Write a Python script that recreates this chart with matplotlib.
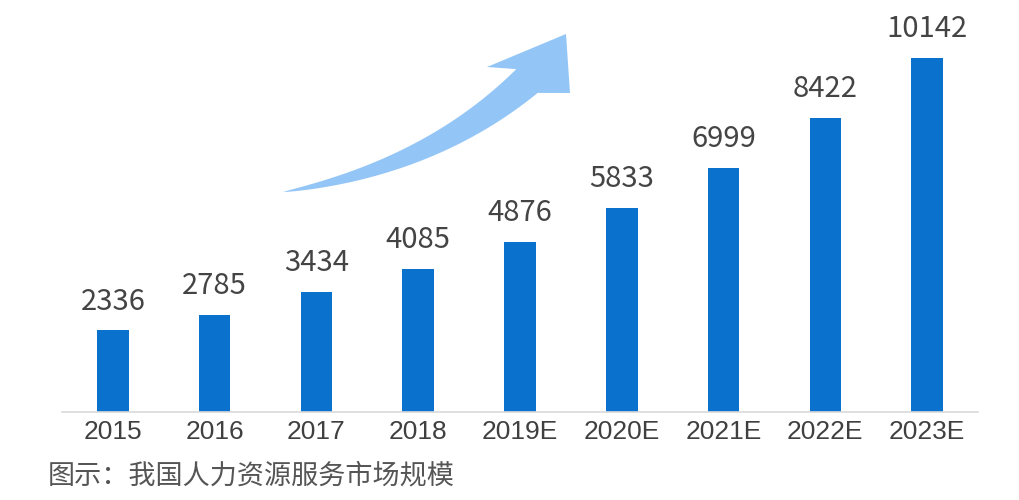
import numpy as np
import matplotlib.pyplot as plt
from matplotlib.patches import Polygon

plt.rcParams['font.family'] = ['Noto Sans CJK SC', 'DejaVu Sans']

# dati
years = ["2015", "2016", "2017", "2018", "2019E", "2020E", "2021E", "2022E", "2023E"]
market_size = [2336, 2785, 3434, 4085, 4876, 5833, 6999, 8422, 10142]
caption = "图示：我国人力资源服务市场规模"

W, H = 1020, 500
fig = plt.figure(figsize=(W / 100, H / 100), dpi=100)
ax = fig.add_axes([62 / W, (H - 412) / H, (978 - 62) / W, 412 / H])

x = np.arange(len(years))
bars = ax.bar(x, market_size, width=0.31, color="#0A72CC")
ax.set_xlim(-0.5, len(years) - 0.5)
ax.set_ylim(0, 11800)

for bar, val in zip(bars, market_size):
    ax.annotate(str(val), (bar.get_x() + bar.get_width() / 2, bar.get_height()),
                xytext=(0, 10), textcoords="offset points", ha="center", va="bottom",
                fontsize=21, color="#444444")

ax.set_xticks(x)
ax.set_xticklabels(years, fontsize=19, color="#404040", family=["Liberation Sans", "DejaVu Sans"])
ax.tick_params(axis="x", length=0, pad=6)
ax.set_yticks([])
for side in ["top", "right", "left"]:
    ax.spines[side].set_visible(False)
ax.spines["bottom"].set_color("#D9D9D9")
ax.spines["bottom"].set_linewidth(1.2)

fig.text(48 / W, 1 - 476 / H, caption, fontsize=19.5, color="#555555", va="center", ha="left")


# freccia decorativa (coordinate in pixel, y dall'alto)
def px(pts):
    return [(a / W, 1 - b / H) for a, b in pts]


p0 = np.array([283.0, 192.0])
p1 = np.array([430.0, 168.0])
p2 = np.array([527.0, 81.0])
t = np.linspace(0, 1, 60)
curve = ((1 - t) ** 2)[:, None] * p0 + (2 * (1 - t) * t)[:, None] * p1 + (t ** 2)[:, None] * p2
deriv = (2 * (1 - t))[:, None] * (p1 - p0) + (2 * t)[:, None] * (p2 - p1)
normal = np.stack([-deriv[:, 1], deriv[:, 0]], axis=1)
normal /= np.linalg.norm(normal, axis=1)[:, None]
half = 16 * t ** 0.8
upper = curve - normal * half[:, None]
lower = curve + normal * half[:, None]
head = [(487, 67), (566, 34), (570, 93)]
pts = list(map(tuple, upper)) + head + list(map(tuple, lower[::-1]))
fig.patches.append(Polygon(px(pts), closed=True, transform=fig.transFigure,
                           facecolor="#93C6F6", edgecolor="none"))

fig.savefig("out.png", dpi=100)
